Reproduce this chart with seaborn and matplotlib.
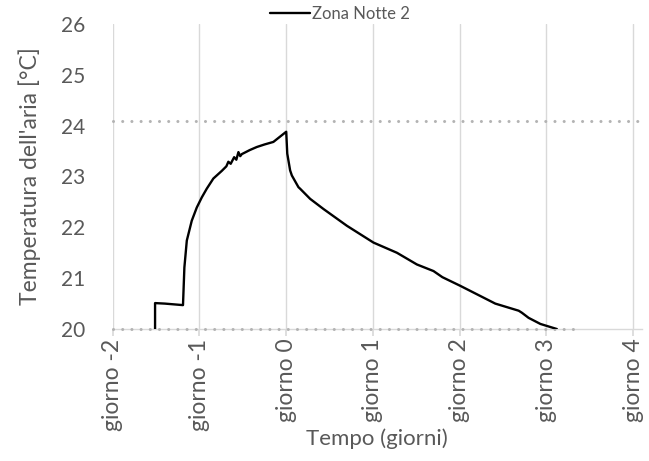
import matplotlib
matplotlib.use("Agg")
import matplotlib.pyplot as plt
import seaborn as sns
import pandas as pd
from matplotlib.lines import Line2D

# --- data ---
days = [-1.512, -1.512, -1.40, -1.26, -1.19, -1.174, -1.146, -1.089, -1.031, -0.973,
        -0.916, -0.840, -0.743, -0.690, -0.667, -0.640, -0.600, -0.575, -0.551, -0.530,
        -0.512, -0.420, -0.339, -0.250, -0.148, 0.0, 0.012, 0.045, 0.065, 0.141, 0.16,
        0.276, 0.43, 0.70, 1.006, 1.276, 1.506, 1.698, 1.80, 2.006, 2.237, 2.41,
        2.68, 2.717, 2.794, 2.93, 3.12]
temp = [20.0, 20.51, 20.50, 20.48, 20.47, 21.21, 21.74, 22.13, 22.39, 22.59,
        22.76, 22.96, 23.11, 23.20, 23.29, 23.25, 23.38, 23.33, 23.48, 23.40,
        23.44, 23.52, 23.58, 23.63, 23.68, 23.88, 23.45, 23.12, 23.02, 22.79, 22.76,
        22.56, 22.36, 22.03, 21.70, 21.50, 21.27, 21.14, 21.02, 20.85, 20.65, 20.50,
        20.36, 20.32, 20.22, 20.10, 20.0]
upper_x = [-2.0, 4.1]
upper_y = [24.1, 24.1]
lower_x = [-2.0, 3.37]
lower_y = [20.0, 20.0]
xticks = [-2, -1, 0, 1, 2, 3, 4]
xticklabels = ["giorno -2", "giorno -1", "giorno 0", "giorno 1", "giorno 2", "giorno 3", "giorno 4"]
yticks = [20, 21, 22, 23, 24, 25, 26]
series_name = "Zona Notte 2"

sns.set_theme(style="white")
plt.rcParams['font.family'] = ['Lato', 'DejaVu Sans']
txt = "#595959"
grid = "#d9d9d9"

fig = plt.figure(figsize=(6.49, 4.61), dpi=100)
ax = fig.add_axes([0.1737, 0.2863, 0.989 - 0.1737, 0.948 - 0.2863])

dot_kw = dict(color="#b3b3b3", lw=2.2, linestyle=(0, (0.01, 3.0)), dash_capstyle="round")
sns.lineplot(x=upper_x, y=upper_y, ax=ax, **dot_kw)
sns.lineplot(x=lower_x, y=lower_y, ax=ax, **dot_kw)
for ln in ax.get_lines():
    ln.set_clip_on(False)
    ln.set_zorder(3)
df = pd.DataFrame({"day": days, "temp": temp})
sns.lineplot(data=df, x="day", y="temp", ax=ax, estimator=None, sort=False,
             color="black", lw=1.7, zorder=4)

ax.set_xlim(-2, 4.1)
ax.set_ylim(20, 26)
ax.set_xticks(xticks)
ax.set_xticklabels(xticklabels, rotation=90, color=txt, fontsize=16.5)
ax.set_yticks(yticks)
ax.set_yticklabels([str(v) for v in yticks], color=txt, fontsize=15)
ax.grid(axis="x", color=grid, lw=1)
ax.grid(axis="y", visible=False)
for s in ["left", "right", "top"]:
    ax.spines[s].set_visible(False)
ax.spines["bottom"].set_color(grid)
ax.spines["bottom"].set_linewidth(1)
ax.tick_params(axis="x", length=5, color=grid, pad=2, bottom=True)
ax.tick_params(axis="y", length=0, pad=20)
ax.set_xlabel("Tempo (giorni)", color=txt, fontsize=16, labelpad=-2)
ax.set_ylabel("Temperatura dell'aria [°C]", color=txt, fontsize=16.5, labelpad=14)

handle = Line2D([], [], color="black", lw=1.7)
fig.legend([handle], [series_name], loc="center", bbox_to_anchor=(340 / 649, 1 - 14 / 461),
           frameon=False, fontsize=12, labelcolor=txt, handlelength=2.4, handletextpad=0.15)

fig.savefig("out.png", dpi=100)
